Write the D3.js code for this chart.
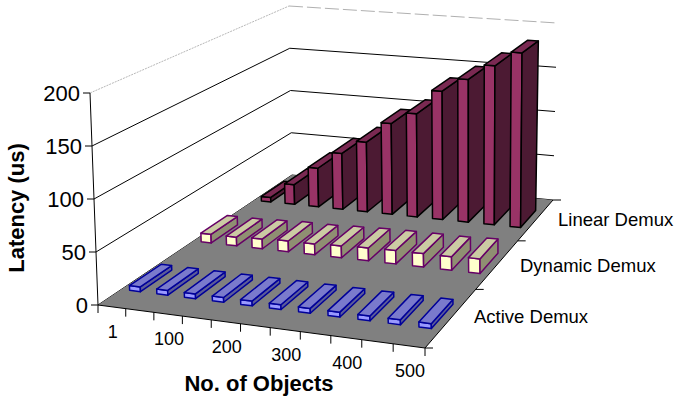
<!DOCTYPE html>
<html>
<head>
<meta charset="utf-8">
<script src="https://cdn.jsdelivr.net/npm/d3@7"></script>
<style>
body{margin:0;background:#fff;}
text{font-family:"Liberation Sans",Arial,sans-serif;fill:#000;}
</style>
</head>
<body>
<svg id="chart" width="674" height="400"></svg>
<script>
// data
const categories = ['1','50','100','150','200','250','300','350','400','450','500'];
const categoryLabels = ['1','100','200','300','400','500'];
const seriesNames = ['Active Demux','Dynamic Demux','Linear Demux'];
const activeDemux = [4.5,4.5,4.5,4.5,4.5,4.5,4.5,4.5,4.5,4.5,4.5];
const dynamicDemux = [9,9,10,11,11,12,13,13.5,13.5,13.5,14.5];
const linearDemux = [5,22,43,62,77,100,113,140,155,172,188];
const valueTicks = [0,50,100,150,200];

const svg = d3.select('#chart');

// scales work in a unit box, project() takes that to the screen
const xScale = d3.scaleBand().domain(categories).range([0,1]).paddingInner(0.6).paddingOuter(0.3);
const zScale = d3.scaleBand().domain(seriesNames).range([0,1]).paddingInner(0.58).paddingOuter(0.29);
const yScale = d3.scaleLinear().domain([0,200]).range([0,1]);

// floor and ceiling corners: front-left, front-right, back-right, back-left
const floorQuad = [[98,305],[425,348],[553,200],[292,175]];
const topQuad = [[90,93],[419,123],[557,23],[289,6]];

function homography(q){
    const [[x0,y0],[x1,y1],[x2,y2],[x3,y3]] = q;
    const dx1=x1-x2, dx2=x3-x2, sx=x0-x1+x2-x3;
    const dy1=y1-y2, dy2=y3-y2, sy=y0-y1+y2-y3;
    const den=dx1*dy2-dx2*dy1;
    const g=(sx*dy2-dx2*sy)/den, h=(dx1*sy-sx*dy1)/den;
    const a=x1-x0+g*x1, b=x3-x0+h*x3, d=y1-y0+g*y1, e=y3-y0+h*y3;
    return (u,v)=>{
        const w=g*u+h*v+1;
        return [(a*u+b*v+x0)/w,(d*u+e*v+y0)/w];
    };
}
const floorMap = homography(floorQuad);
const topMap = homography(topQuad);

function project(u,v,t){
    const f=floorMap(u,v), c=topMap(u,v);
    return [f[0]+(c[0]-f[0])*t, f[1]+(c[1]-f[1])*t];
}

const lineGen = d3.line();
function poly(g,pts,fill,stroke,sw){
    return g.append('path').attr('d',lineGen(pts)+'Z')
        .attr('fill',fill).attr('stroke',stroke||'none').attr('stroke-width',sw||0)
        .attr('stroke-linejoin','round');
}
function seg(g,a,b,stroke,sw,dash){
    const s=g.append('line').attr('x1',a[0]).attr('y1',a[1]).attr('x2',b[0]).attr('y2',b[1])
        .attr('stroke',stroke).attr('stroke-width',sw);
    if(dash) s.attr('stroke-dasharray',dash);
    return s;
}

// walls
const grid = svg.append('g').attr('class','grid');
valueTicks.forEach(v=>{
    const t=yScale(v);
    const isTop = v===200;
    seg(grid,project(0,0,t),project(0,1,t),isTop?'#b8b8b8':'#000',1,isTop?'2 1':null);
    seg(grid,project(0,1,t),project(1,1,t),isTop?'#b0b0b0':'#000',1,isTop?'14 4':null);
});

// floor
poly(svg.append('g'),[project(0,0,0),project(1,0,0),project(1,1,0),project(0,1,0)],'#808080');

// axes
const axis = svg.append('g').attr('class','axis');
seg(axis,project(0,0,0),project(0,0,1),'#000',1);
seg(axis,project(0,0,0),project(1,0,0),'#000',1);
seg(axis,project(1,0,0),project(1,1,0),'#000',1);
valueTicks.forEach(v=>{
    const p=project(0,0,yScale(v));
    seg(axis,[p[0]-7,p[1]],p,'#000',1);
    axis.append('text').attr('x',p[0]-10).attr('y',p[1]+8).attr('text-anchor','end')
        .attr('font-size',22).text(v);
});
const step = xScale.step();
d3.range(categories.length+1).forEach(i=>{
    const p=project(i*step,0,0);
    seg(axis,p,[p[0],p[1]+8],'#000',1);
});
categoryLabels.forEach(c=>{
    const p=project(xScale(c)+xScale.bandwidth()/2,0,0);
    axis.append('text').attr('x',p[0]+1).attr('y',p[1]+31).attr('text-anchor','middle')
        .attr('font-size',18).text(c);
});
d3.range(seriesNames.length+1).forEach(i=>{
    const p=project(1,i/seriesNames.length,0);
    seg(axis,p,[p[0]+8,p[1]],'#000',1);
});
const labelPos = [[474,323],[520,272],[558,226]];
seriesNames.forEach((s,i)=>{
    axis.append('text').attr('x',labelPos[i][0]).attr('y',labelPos[i][1])
        .attr('font-size',18.5).text(s);
});
axis.append('text').attr('x',259).attr('y',391).attr('text-anchor','middle')
    .attr('font-size',22).attr('font-weight','bold').text('No. of Objects');
axis.append('text').attr('transform','translate(24,208) rotate(-90)').attr('text-anchor','middle')
    .attr('font-size',22).attr('font-weight','bold').text('Latency (us)');

// bars, back row first, left to right
const rows = [
    {name:'Linear Demux', values:linearDemux, front:'#993366', top:'#7a2952', side:'#4c1a33', line:'#000', sw:1.5},
    {name:'Dynamic Demux', values:dynamicDemux, front:'#ffffcc', top:'#cbcba3', side:'#8f8f72', line:'#660066', sw:1.5},
    {name:'Active Demux', values:activeDemux, front:'#9999ff', top:'#7a7acc', side:'#5c5c99', line:'#000099', sw:1.5}
];
rows.forEach(r=>{
    const g = svg.append('g').attr('class','series');
    categories.forEach((c,i)=>{
        const u0=xScale(c), u1=u0+xScale.bandwidth();
        const v0=zScale(r.name), v1=v0+zScale.bandwidth();
        const t=yScale(r.values[i]);
        poly(g,[project(u0,v0,0),project(u1,v0,0),project(u1,v0,t),project(u0,v0,t)],r.front,r.line,r.sw);
        poly(g,[project(u1,v0,0),project(u1,v1,0),project(u1,v1,t),project(u1,v0,t)],r.side,r.line,r.sw);
        poly(g,[project(u0,v0,t),project(u1,v0,t),project(u1,v1,t),project(u0,v1,t)],r.top,r.line,r.sw);
    });
});
</script>
</body>
</html>
